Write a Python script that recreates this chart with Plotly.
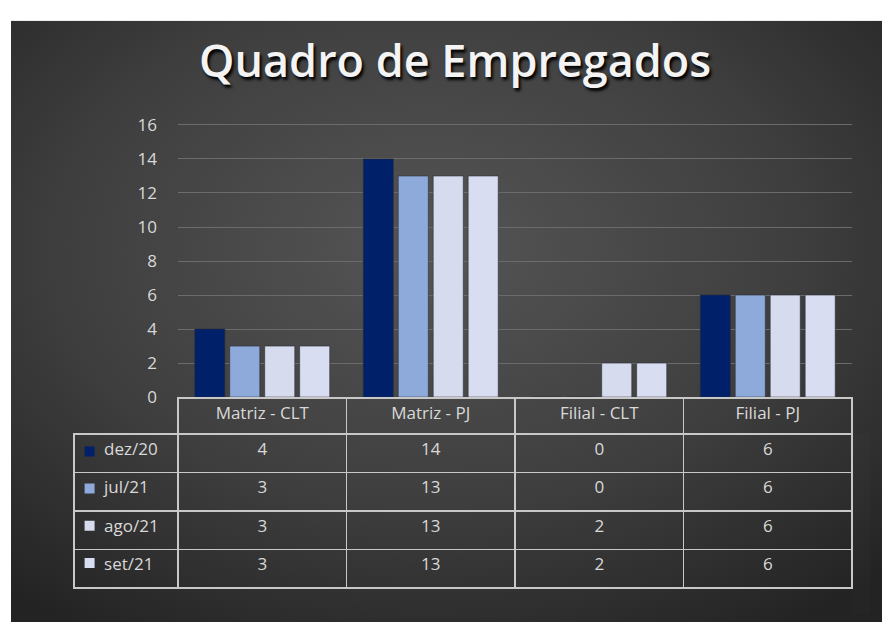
import base64

import plotly.graph_objects as go

categories = ['Matriz - CLT', 'Matriz - PJ', 'Filial - CLT', 'Filial - PJ']
periods = ['dez/20', 'jul/21', 'ago/21', 'set/21']
dez_20 = [4, 14, 0, 6]
jul_21 = [3, 13, 0, 6]
ago_21 = [3, 13, 2, 6]
set_21 = [3, 13, 2, 6]
series = [dez_20, jul_21, ago_21, set_21]
colors = ['#00216a', '#8eaadb', '#d7dbee', '#d9ddf1']

W, H = 882, 633
text_color = '#d9d9d9'
font = 'Open Sans'

# dark radial backdrop (Excel style)
svg = f'''<svg xmlns="http://www.w3.org/2000/svg" width="{W-11}" height="{H-10}">
<defs><radialGradient id="g" cx="48%" cy="38%" r="75%">
<stop offset="0" stop-color="#555555"/><stop offset="0.55" stop-color="#3f3f3f"/>
<stop offset="1" stop-color="#232323"/></radialGradient></defs>
<rect width="100%" height="100%" fill="url(#g)"/></svg>'''
bg_src = 'data:image/svg+xml;base64,' + base64.b64encode(svg.encode()).decode()

fig = go.Figure()

for name, vals, col in zip(periods, series, colors):
    fig.add_trace(go.Bar(
        x=categories, y=vals, name=name,
        marker=dict(color=col, line=dict(color='#2a2e37', width=0.6)),
        showlegend=False, hoverinfo='x+y+name'
    ))

# data table under the bars
pad = '\u00a0' * 5
first_col = [pad + p for p in periods]
value_cols = [[s[i] for s in series] for i in range(len(categories))]

fig.add_trace(go.Table(
    domain=dict(x=[74/W, 852/W], y=[1-625/H, 1-401/H]),
    columnwidth=[104] + [168.5]*4,
    header=dict(
        values=[''] + categories,
        fill_color='rgba(0,0,0,0)',
        line=dict(color=['rgba(0,0,0,0)'] + ['#c8c8c8']*4, width=1.5),
        font=dict(family=font, size=17, color=text_color),
        align='center', height=36
    ),
    cells=dict(
        values=[first_col] + value_cols,
        fill_color='rgba(0,0,0,0)',
        line=dict(color='#c8c8c8', width=1.5),
        font=dict(family=font, size=17, color=text_color),
        align=['left'] + ['center']*4, height=38.5
    )
))

# legend keys in the table's first column
fig.add_trace(go.Scatter(
    x=[0.15]*len(periods), y=periods, mode='markers',
    marker=dict(symbol='square', size=10, color=colors),
    xaxis='x2', yaxis='y2', showlegend=False, hoverinfo='skip'
))

fig.update_layout(
    width=W, height=H,
    margin=dict(l=0, r=0, t=0, b=0),
    paper_bgcolor='white',
    plot_bgcolor='rgba(0,0,0,0)',
    barmode='group', bargap=0.17, bargroupgap=0.14,
    font=dict(family=font, color=text_color),
    xaxis=dict(domain=[178/W, 852/W], showticklabels=False, showgrid=False,
               zeroline=False, showline=False),
    yaxis=dict(domain=[1-400/H, 1-117/H], range=[0, 16.06], tickvals=list(range(0, 17, 2)),
               gridcolor='#6b6b6b', gridwidth=1, zeroline=False, showline=False,
               tickfont=dict(family=font, size=17, color=text_color),
               ticklabelstandoff=20),
    xaxis2=dict(domain=[74/W, 178/W], range=[0, 1], visible=False),
    yaxis2=dict(domain=[1-591/H, 1-437/H], range=[3.5, -0.5], visible=False,
                type='category', categoryorder='array', categoryarray=periods),
    images=[dict(source=bg_src, xref='paper', yref='paper',
                 x=11/W, y=1-10/H, sizex=(W-11)/W, sizey=(H-10)/H,
                 xanchor='left', yanchor='top', sizing='stretch', layer='below')],
    annotations=[dict(
        text='Quadro de Empregados', xref='paper', yref='paper',
        x=455/W, y=1-50/H, xanchor='center', yanchor='middle', showarrow=False,
        font=dict(family='Open Sans', size=45, color='#f4f4f4', weight=600,
                  shadow='2px 3px 3px #000000'),
    )],
)

fig.write_html('out.html', config={'displayModeBar': False},
               post_script="document.body.style.margin='0px';")
